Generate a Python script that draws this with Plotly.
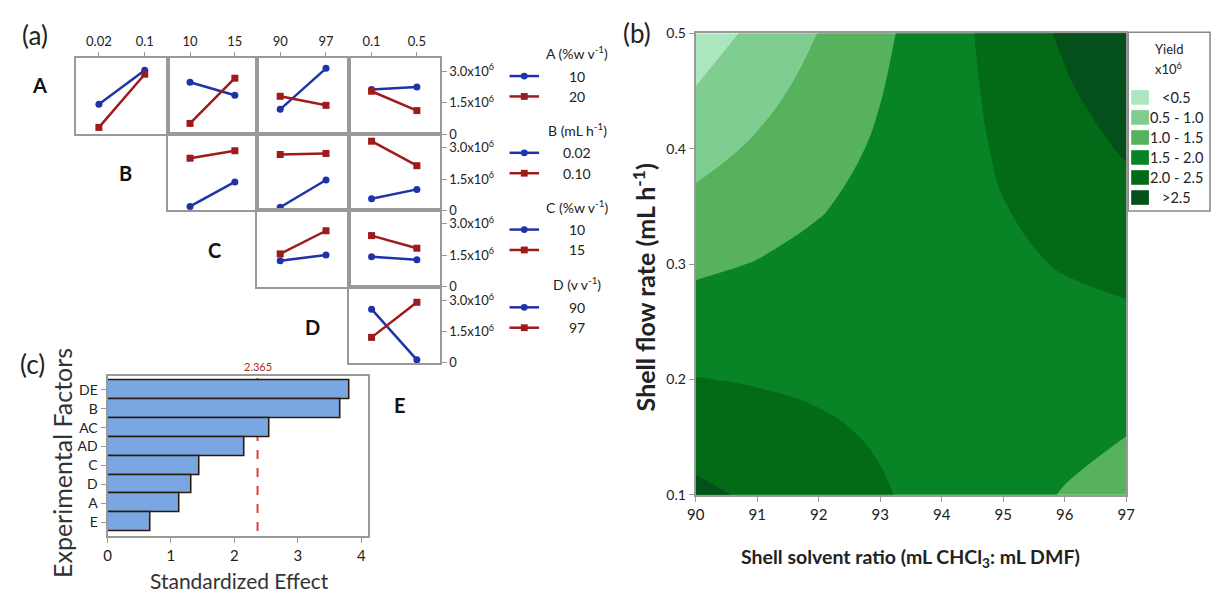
import plotly.graph_objects as go

W, H = 1219, 601


def px(x):
    return x / W


def py(y):
    return 1 - y / H


FONT = "Lato"
BLUE = "#1f33a8"
RED = "#9e1b1b"
FRAME = "#999999"
TXT = "#222222"

# ---------------- (a) interaction plot data (yield, x10^6) ----------------
row_factors = ["A", "B", "C", "D"]
B_levels = ["0.02", "0.1"]
C_levels = ["10", "15"]
D_levels = ["90", "97"]
E_levels = ["0.1", "0.5"]
col_levels = [B_levels, C_levels, D_levels, E_levels]

# blue = low level of the row factor, red = high level of the row factor
A_low = [[1.43, 3.05], [2.48, 1.86], [1.19, 3.14], [2.13, 2.25]]
A_high = [[0.33, 2.86], [0.52, 2.67], [1.81, 1.38], [2.05, 1.13]]
B_low = [[0.18, 1.36], [0.14, 1.45], [0.55, 1.00]]
B_high = [[2.50, 2.86], [2.68, 2.73], [3.32, 2.14]]
C_low = [[1.24, 1.52], [1.43, 1.29]]
C_high = [[1.57, 2.67], [2.44, 1.84]]
D_low = [[2.58, 0.14]]
D_high = [[1.22, 2.91]]

y_tickvals = [0, 1.5, 3.0]
y_ticktext = ["0", "1.5x10<sup>6</sup>", "3.0x10<sup>6</sup>"]

legend_titles = ["A (%w v<sup>-1</sup>)", "B (mL h<sup>-1</sup>)",
                 "C (%w v<sup>-1</sup>)", "D (v v<sup>-1</sup>)"]
legend_levels = [["10", "20"], ["0.02", "0.10"], ["10", "15"], ["90", "97"]]

# ---------------- (c) Pareto chart data ----------------
pareto_terms = ["DE", "B", "AC", "AD", "C", "D", "A", "E"]
pareto_effects = [3.82, 3.68, 2.56, 2.16, 1.45, 1.32, 1.14, 0.68]
critical_effect = 2.365

# ---------------- (b) contour data (yield, x10^6) ----------------
solvent_ratio = [90, 91, 92, 93, 94, 95, 96, 97]
flow_rate = [0.10, 0.15, 0.20, 0.25, 0.30, 0.35, 0.40, 0.45, 0.50]
yield_grid = [
    [2.607, 2.418, 2.230, 2.041, 1.853, 1.664, 1.476, 1.287],
    [2.309, 2.193, 2.077, 1.961, 1.845, 1.729, 1.613, 1.497],
    [2.013, 1.969, 1.926, 1.882, 1.838, 1.794, 1.751, 1.707],
    [1.715, 1.744, 1.773, 1.802, 1.830, 1.859, 1.888, 1.917],
    [1.417, 1.518, 1.620, 1.721, 1.823, 1.924, 2.026, 2.127],
    [1.119, 1.293, 1.467, 1.641, 1.815, 1.989, 2.163, 2.337],
    [0.822, 1.069, 1.315, 1.562, 1.808, 2.055, 2.301, 2.548],
    [0.525, 0.844, 1.163, 1.482, 1.800, 2.119, 2.438, 2.757],
    [0.227, 0.618, 1.010, 1.401, 1.793, 2.184, 2.576, 2.967],
]
yield_bins = ["<0.5", "0.5 - 1.0", "1.0 - 1.5", "1.5 - 2.0", "2.0 - 2.5", ">2.5"]
yield_colors = ["#abe6bf", "#80cd92", "#56b25d", "#088325", "#036b17", "#03501a"]

fig = go.Figure()
layout = {}
shapes = []
annotations = []


def note(x, y, text, size, color=TXT, angle=0, xref="paper"):
    annotations.append(dict(x=x, y=y, xref=xref, yref="paper", text=text,
                            showarrow=False, xanchor="center", yanchor="middle",
                            textangle=angle,
                            font=dict(size=size, color=color, family=FONT)))


# ---------------- (a) interaction grid ----------------
col_edges = [68, 161, 252, 345, 437]
row_edges = [50, 129, 207, 286, 364]
lows_all = [A_low, B_low, C_low, D_low]
highs_all = [A_high, B_high, C_high, D_high]

k = 0
for r in range(4):
    for j in range(len(lows_all[r])):
        c = r + j
        k += 1
        xref = "x" if k == 1 else f"x{k}"
        yref = "y" if k == 1 else f"y{k}"
        xkey = "xaxis" if k == 1 else f"xaxis{k}"
        ykey = "yaxis" if k == 1 else f"yaxis{k}"
        for vals, colr, sym in ((lows_all[r][j], BLUE, "circle"),
                                (highs_all[r][j], RED, "square")):
            fig.add_trace(go.Scatter(
                x=col_levels[c], y=vals, xaxis=xref, yaxis=yref,
                mode="lines+markers",
                line=dict(color=colr, width=2.5),
                marker=dict(symbol=sym, size=7, color=colr),
                showlegend=False, hoverinfo="skip", cliponaxis=False))
        layout[xkey] = dict(
            domain=[px(col_edges[c]), px(col_edges[c + 1])], anchor=yref,
            type="category", range=[-0.5, 1.5], showline=True, mirror=True,
            linecolor=FRAME, linewidth=2, showgrid=False, zeroline=False,
            side="top", showticklabels=(r == 0),
            ticks="outside" if r == 0 else "", ticklen=4, tickcolor=FRAME,
            tickfont=dict(size=13, color=TXT, family=FONT), fixedrange=True)
        layout[ykey] = dict(
            domain=[py(row_edges[r + 1]), py(row_edges[r])], anchor=xref,
            range=[0, 3.65], showline=True, mirror=True, linecolor=FRAME,
            linewidth=2, showgrid=False, zeroline=False, side="right",
            showticklabels=(c == 3), ticks="outside" if c == 3 else "",
            ticklen=5, tickcolor=FRAME, tickvals=y_tickvals,
            ticktext=y_ticktext,
            tickfont=dict(size=13, color=TXT, family=FONT), fixedrange=True)

# row labels
row_label_pos = [(31, 78), (118, 169), (209, 248), (308, 327), (397, 408)]
for lab, (lx, ly) in zip(row_factors + ["E"], row_label_pos):
    note(px(lx), py(ly), f"<b>{lab}</b>", 20, "#111")

# legend of interaction plot
title_y = [45, 124, 203, 283]
for g in range(4):
    ty = title_y[g]
    note(px(577), py(ty), legend_titles[g], 14)
    for i, (colr, sym) in enumerate(((BLUE, "circle"), (RED, "square"))):
        iy = ty + 24 + 21 * i
        shapes.append(dict(type="line", xref="paper", yref="paper",
                           x0=px(508), x1=px(538), y0=py(iy), y1=py(iy),
                           line=dict(color=colr, width=2.5)))
        shapes.append(dict(type="circle" if sym == "circle" else "rect",
                           xref="paper", yref="paper",
                           x0=px(519.5), x1=px(526.5), y0=py(iy - 3.5), y1=py(iy + 3.5),
                           fillcolor=colr, line=dict(color=colr, width=0)))
        note(px(577), py(iy), legend_levels[g][i], 14)

# ---------------- (c) Pareto chart ----------------
fig.add_trace(go.Bar(
    y=pareto_terms, x=pareto_effects, orientation="h", xaxis="x11", yaxis="y11",
    marker=dict(color="#7aa6e1", line=dict(color="#2a1c0c", width=1.6)),
    showlegend=False, hoverinfo="skip"))
layout["xaxis11"] = dict(
    domain=[px(100), px(364)], anchor="y11", range=[0, 4.1],
    tickvals=[0, 1, 2, 3, 4], showline=True, mirror=True, linecolor=FRAME,
    linewidth=2, showgrid=False, zeroline=False, ticks="outside", ticklen=5,
    tickcolor=FRAME, tickfont=dict(size=15, color=TXT, family=FONT), fixedrange=True)
layout["yaxis11"] = dict(
    domain=[py(542), py(378)], anchor="x11", type="category",
    categoryorder="array", categoryarray=pareto_terms[::-1],
    range=[-0.72, 7.72], showline=True, mirror=True, linecolor=FRAME,
    linewidth=2, showgrid=False, zeroline=False, ticks="outside", ticklen=5,
    tickcolor=FRAME, tickfont=dict(size=14, color=TXT, family=FONT), fixedrange=True)
layout["bargap"] = 0
shapes.append(dict(type="line", xref="x11", yref="y11 domain",
                   x0=critical_effect, x1=critical_effect, y0=0.03, y1=1,
                   layer="below", line=dict(color="#e23b3b", width=2, dash="dash")))
note(critical_effect, py(368), f"{critical_effect}", 11, "#a5282c", xref="x11")
note(px(234), py(588), "Standardized Effect", 21, "#333")
note(px(54), py(467), "Experimental Factors", 25, "#333", angle=-90)

# ---------------- (b) contour plot ----------------
fig.add_trace(go.Contour(
    x=solvent_ratio, y=flow_rate, z=yield_grid, xaxis="x12", yaxis="y12",
    autocontour=False,
    contours=dict(start=0.5, end=2.5, size=0.5, coloring="fill", showlines=False),
    colorscale=[[i / 5, col] for i, col in enumerate(yield_colors)],
    line=dict(width=0, smoothing=1.3), showscale=False, hoverinfo="skip"))
layout["xaxis12"] = dict(
    domain=[px(697), px(1134)], anchor="y12", range=[90, 97],
    tickvals=solvent_ratio, showline=True, mirror=True, linecolor=FRAME,
    linewidth=2, showgrid=False, zeroline=False, ticks="outside", ticklen=5,
    tickcolor=FRAME, tickfont=dict(size=15, color=TXT, family=FONT), fixedrange=True)
layout["yaxis12"] = dict(
    domain=[py(500), py(25)], anchor="x12", range=[0.1, 0.5],
    tickvals=[0.1, 0.2, 0.3, 0.4, 0.5], tickformat=".1f", showline=True,
    mirror=True, linecolor=FRAME, linewidth=2, showgrid=False, zeroline=False,
    ticks="outside", ticklen=5, tickcolor=FRAME,
    tickfont=dict(size=14, color=TXT, family=FONT), fixedrange=True)
note(px(915), py(565), "<b>Shell solvent ratio (mL CHCl<sub>3</sub>: mL DMF)</b>", 19.5)
note(px(645), py(286), "<b>Shell flow rate (mL h<sup>-1</sup>)</b>", 25, angle=-90)

# contour legend box
shapes.append(dict(type="rect", xref="paper", yref="paper",
                   x0=px(1136), x1=1.0, y0=py(208), y1=py(24),
                   fillcolor="white", line=dict(color="#888", width=1.5)))
note(px(1177), py(41), "Yield", 13)
note(px(1177), py(61), "x10<sup>6</sup>", 13)
for i, (lab, colr) in enumerate(zip(yield_bins, yield_colors)):
    iy = 91 + 20.6 * i
    shapes.append(dict(type="rect", xref="paper", yref="paper",
                       x0=px(1139), x1=px(1157), y0=py(iy + 7.5), y1=py(iy - 7.5),
                       fillcolor=colr, line=dict(width=0)))
    note(px(1185), py(iy), lab, 14.5)

# panel letters
for lab, (lx, ly) in zip(["(a)", "(b)", "(c)"], [(26, 27), (637, 25), (24, 365)]):
    note(px(lx), py(ly), lab, 26)

layout.update(dict(
    width=W, height=H, margin=dict(l=0, r=0, t=0, b=0),
    paper_bgcolor="white", plot_bgcolor="white",
    font=dict(family=FONT, color=TXT), showlegend=False,
    shapes=shapes, annotations=annotations))
fig.update_layout(**layout)
fig.write_html("out.html")
